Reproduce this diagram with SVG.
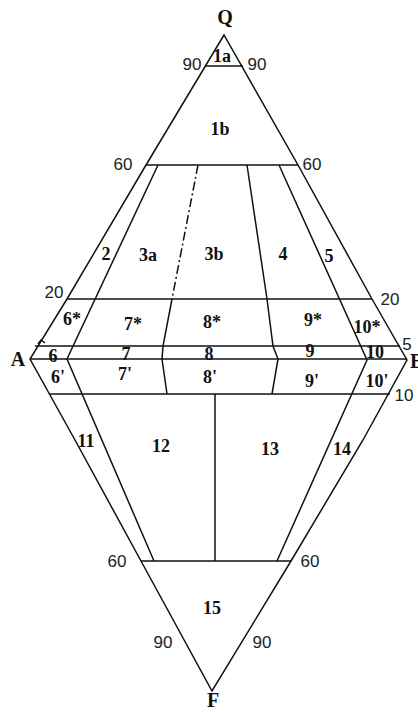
<svg xmlns="http://www.w3.org/2000/svg" width="418" height="712" viewBox="0 0 418 712">
<style>
.ln{fill:none;stroke:#111;stroke-width:1.5;stroke-linejoin:miter}
.dd{fill:none;stroke:#111;stroke-width:1.5;stroke-dasharray:9,3,2,3}
.lb{font-family:"Liberation Serif","Times New Roman",serif;font-weight:bold;font-size:18px;fill:#111;text-anchor:middle}
.vx{font-family:"Liberation Serif","Times New Roman",serif;font-weight:bold;font-size:20px;fill:#111;text-anchor:middle}
.nm{font-family:"Liberation Sans",Arial,sans-serif;font-size:17px;fill:#222;text-anchor:middle}
</style>
<rect width="418" height="712" fill="#fff"/>
<g id="outline">
<path class="ln" d="M224,35 L146,165 L67,299 L30,359 L75,440 L141,561 L212,691 L291,561 L363,440 L407,360 L372,299 L298,165 Z"/>
</g>
<g id="horizontal-lines">
<path class="ln" d="M205,66 H243"/>
<path class="ln" d="M146,165 H298"/>
<path class="ln" d="M67,299 H372"/>
<path class="ln" d="M35,346 H400"/>
<path class="ln" d="M30,359 H407"/>
<path class="ln" d="M50,394 H390"/>
<path class="ln" d="M141,561 H291"/>
</g>
<g id="dividers">
<path class="ln" d="M158,165 L67,359 L154,561"/>
<path class="dd" d="M198,165 L172,299"/>
<path class="ln" d="M172,299 L163,346 L162,359 L167,394"/>
<path class="ln" d="M247,165 L267,299 L273,346 L278,359 L272,394"/>
<path class="ln" d="M279,165 L367,360 L277,561"/>
<path class="ln" d="M215,394 V561"/>
<path class="ln" d="M38,344 L41,340 L45,343"/>
</g>
<g id="vertices">
<text class="vx" x="225" y="24">Q</text>
<text class="vx" x="18" y="366">A</text>
<text class="vx" x="410" y="368" style="text-anchor:start">B</text>
<text class="vx" x="213" y="707">F</text>
</g>
<g id="scale-labels">
<text class="nm" x="192" y="70">90</text>
<text class="nm" x="257" y="70">90</text>
<text class="nm" x="123" y="170">60</text>
<text class="nm" x="312" y="170">60</text>
<text class="nm" x="54" y="298">20</text>
<text class="nm" x="390" y="305">20</text>
<text class="nm" x="407" y="350">5</text>
<text class="nm" x="404" y="401">10</text>
<text class="nm" x="117" y="567">60</text>
<text class="nm" x="310" y="567">60</text>
<text class="nm" x="163" y="648">90</text>
<text class="nm" x="262" y="648">90</text>
</g>
<g id="field-labels">
<text class="lb" x="222" y="62">1a</text>
<text class="lb" x="220" y="135">1b</text>
<text class="lb" x="106" y="260">2</text>
<text class="lb" x="148" y="261">3a</text>
<text class="lb" x="214" y="260">3b</text>
<text class="lb" x="283" y="260">4</text>
<text class="lb" x="329" y="262">5</text>
<text class="lb" x="72" y="325">6*</text>
<text class="lb" x="133" y="330">7*</text>
<text class="lb" x="212" y="328">8*</text>
<text class="lb" x="313" y="326">9*</text>
<text class="lb" x="367" y="333">10*</text>
<text class="lb" x="53" y="362">6</text>
<text class="lb" x="126" y="360">7</text>
<text class="lb" x="209" y="360">8</text>
<text class="lb" x="310" y="357">9</text>
<text class="lb" x="375" y="358">10</text>
<text class="lb" x="58" y="383">6'</text>
<text class="lb" x="125" y="380">7'</text>
<text class="lb" x="210" y="383">8'</text>
<text class="lb" x="312" y="387">9'</text>
<text class="lb" x="377" y="387">10'</text>
<text class="lb" x="86" y="447">11</text>
<text class="lb" x="161" y="452">12</text>
<text class="lb" x="270" y="455">13</text>
<text class="lb" x="342" y="455">14</text>
<text class="lb" x="212" y="614">15</text>
</g>
</svg>
